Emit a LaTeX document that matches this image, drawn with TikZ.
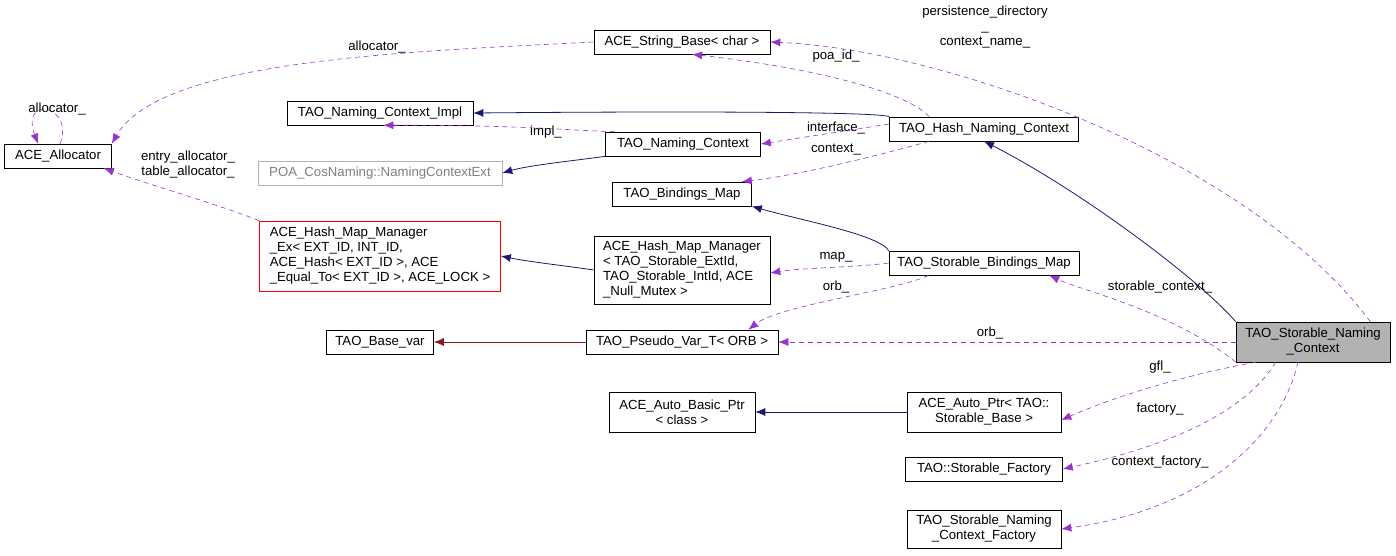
\documentclass[tikz,border=0pt]{standalone}
\usepackage{fontspec}
\setmainfont{Liberation Sans}
\usetikzlibrary{arrows.meta}
\definecolor{usecol}{HTML}{9A32CD}
\definecolor{inhcol}{HTML}{191970}
\definecolor{tplcol}{HTML}{8B1A1A}
\begin{document}
\begin{tikzpicture}[x=1pt,y=-1pt,>={Latex[length=10pt,width=8pt]},
  every node/.style={font=\fontsize{13.2}{15}\selectfont,inner sep=1pt},
  cls/.style={draw=black,fill=white,align=center,minimum height=24pt,line width=0.6pt},
  use/.style={draw=usecol,dashed,dash pattern=on 5pt off 4pt,->,line width=0.6pt},
  inh/.style={draw=inhcol,->,line width=0.8pt},
  tpl/.style={draw=tplcol,->,line width=0.8pt},
  lbl/.style={align=center,fill=none}]
\useasboundingbox (0,0) rectangle (1396,555);
%%
\node (sb) at (682,42) [cls,minimum width=176pt] {ACE\_String\_Base< char >};
\node (impl) at (380,113) [cls,minimum width=186pt] {TAO\_Naming\_Context\_Impl};
\node (alloc) at (58,156) [cls,minimum width=107pt] {ACE\_Allocator};
\node (poa) at (380,173) [cls,draw=gray!60,text=gray,minimum width=244pt] {POA\_CosNaming::NamingContextExt};
\node (nc) at (683,144) [cls,minimum width=155pt] {TAO\_Naming\_Context};
\node (hnc) at (984,129) [cls,minimum width=189pt] {TAO\_Hash\_Naming\_Context};
\node (bm) at (682,194) [cls,minimum width=139pt] {TAO\_Bindings\_Map};
\node (hmex) at (380,256) [cls,align=left,draw=red,minimum width=241pt,minimum height=70pt] {ACE\_Hash\_Map\_Manager\\\_Ex< EXT\_ID, INT\_ID,\\ ACE\_Hash< EXT\_ID >, ACE\\\_Equal\_To< EXT\_ID >, ACE\_LOCK >};
\node (hm) at (682,270) [cls,align=left,minimum width=176pt,minimum height=68pt] {ACE\_Hash\_Map\_Manager\\< TAO\_Storable\_ExtId,\\ TAO\_Storable\_IntId, ACE\\\_Null\_Mutex >};
\node (sbm) at (984,263) [cls,minimum width=190pt] {TAO\_Storable\_Bindings\_Map};
\node (bv) at (380,342) [cls,minimum width=107pt] {TAO\_Base\_var};
\node (pv) at (682,342) [cls,minimum width=192pt] {TAO\_Pseudo\_Var\_T< ORB >};
\node (snc) at (1313,342) [cls,fill=gray!60,minimum width=154pt,minimum height=40pt] {TAO\_Storable\_Naming\\\_Context};
\node (abp) at (682,412) [cls,minimum width=146pt,minimum height=40pt] {ACE\_Auto\_Basic\_Ptr\\< class >};
\node (ap) at (984,412) [cls,minimum width=154pt,minimum height=40pt] {ACE\_Auto\_Ptr< TAO::\\Storable\_Base >};
\node (sf) at (984,469) [cls,minimum width=157pt] {TAO::Storable\_Factory};
\node (scf) at (984,529) [cls,minimum width=154pt,minimum height=38pt] {TAO\_Storable\_Naming\\\_Context\_Factory};
% inheritance
\draw [inh] (hnc.north west) ..controls (880,112) and (700,111) .. (impl.east);
\draw [inh] (nc.south west) ..controls (580,160) and (530,165) .. (poa.east);
\draw [inh] (sbm.north west) ..controls (880,235) and (800,220) .. (bm.south east);
\draw [inh] (hm.west) ..controls (560,265) and (530,262) .. (hmex.east);
\draw [inh] (ap.west) -- (abp.east);
\draw [inh] (snc.north west) ..controls (1200,280) and (1080,190) .. (hnc.south);
\draw [tpl] (pv.west) -- (bv.east);
% usage
\draw [use] ([xshift=2pt]alloc.north) ..controls (75,105) and (20,95) .. ([xshift=-20pt]alloc.north);
\node [lbl] at (57,109) {allocator\_};
\draw [use] (sb.west) ..controls (400,52) and (160,60) .. (alloc.north east);
\node [lbl] at (377,47) {allocator\_};
\draw [use] (hmex.north west) ..controls (220,205) and (150,185) .. ([xshift=-8pt]alloc.south east);
\node [lbl] at (188,165) {entry\_allocator\_\\table\_allocator\_};
\draw [use] ([xshift=-20pt]snc.north east) ..controls (1250,160) and (950,50) .. (sb.east);
\node [lbl] at (985,27) {persistence\_directory\\\_\\context\_name\_};
\draw [use] ([xshift=40pt]hnc.north west) ..controls (910,95) and (830,70) .. ([xshift=10pt]sb.south);
\node [lbl] at (836,56) {poa\_id\_};
\draw [use] ([xshift=10pt]nc.north west) ..controls (560,130) and (520,125) .. ([xshift=-90pt]impl.south east);
\node [lbl] at (546,132) {impl\_};
\draw [use] ([yshift=5pt]hnc.west) -- (nc.east);
\node [lbl] at (836,128) {interface\_};
\draw [use] ([xshift=40pt]hnc.south west) ..controls (880,155) and (800,175) .. ([xshift=-10pt]bm.north east);
\node [lbl] at (836,150) {context\_};
\draw [use] (sbm.west) ..controls (860,267) and (800,268) .. ([yshift=-3pt]hm.east);
\node [lbl] at (836,257) {map\_};
\draw [use] ([xshift=40pt]sbm.south west) ..controls (900,290) and (780,305) .. ([xshift=-30pt]pv.north east);
\node [lbl] at (836,287) {orb\_};
\draw [use] ([yshift=-20pt]snc.west) ..controls (1170,310) and (1080,290) .. ([xshift=-30pt]sbm.south east);
\node [lbl] at (1160,287) {storable\_context\_};
\draw [use] (snc.west) -- (pv.east);
\node [lbl] at (990,333) {orb\_};
\draw [use] ([xshift=20pt]snc.south west) ..controls (1210,370) and (1130,390) .. ([yshift=-8pt]ap.east);
\node [lbl] at (1160,367) {gfl\_};
\draw [use] ([xshift=40pt]snc.south west) ..controls (1240,420) and (1150,450) .. (sf.east);
\node [lbl] at (1160,409) {factory\_};
\draw [use] ([xshift=-15pt]snc.south) ..controls (1280,440) and (1200,510) .. (scf.east);
\node [lbl] at (1160,462) {context\_factory\_};
%
\end{tikzpicture}
\end{document}
